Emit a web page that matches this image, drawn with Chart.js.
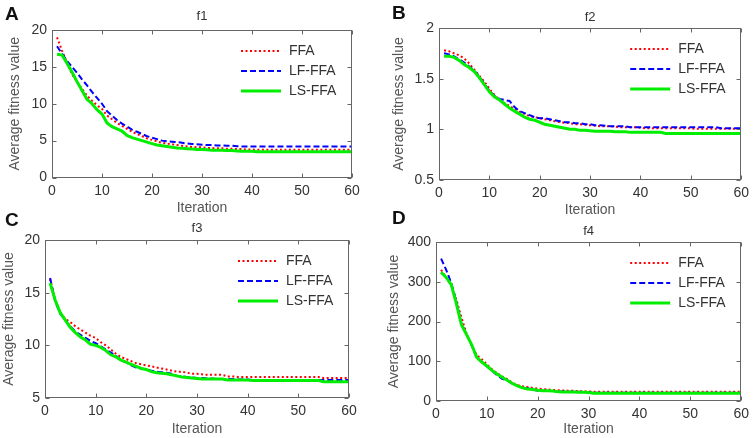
<!DOCTYPE html>
<html>
<head>
<meta charset="utf-8">
<title>Average fitness value vs iteration</title>
<script src="https://cdn.jsdelivr.net/npm/chart.js@4.4.1/dist/chart.umd.min.js"></script>
<style>
  body { margin: 0; background: #fff; }
  #wrap { position: relative; width: 754px; height: 438px; overflow: hidden; background: #fff; }
  #wrap canvas { position: absolute; }
  .tag { position: absolute; font: bold 19px 'Liberation Sans', Arial, sans-serif; line-height: 1; color: #111; }
</style>
</head>
<body>
<div id="wrap">
  <canvas id="chartA" width="377" height="219" style="left:0;top:0"></canvas>
  <canvas id="chartB" width="377" height="219" style="left:377px;top:0"></canvas>
  <canvas id="chartC" width="377" height="219" style="left:0;top:219px"></canvas>
  <canvas id="chartD" width="377" height="219" style="left:377px;top:219px"></canvas>
  <div class="tag" style="left:5px;top:3.5px">A</div>
  <div class="tag" style="left:392px;top:2.5px">B</div>
  <div class="tag" style="left:5px;top:209.5px">C</div>
  <div class="tag" style="left:392px;top:208px">D</div>
</div>
<script>
// Iterations (x axis)
const iterations = [1, 2, 3, 4, 5, 6, 7, 8, 9, 10, 11, 12, 13, 14, 15, 16, 17, 18, 19, 20,
    21, 22, 23, 24, 25, 26, 27, 28, 29, 30, 31, 32, 33, 34, 35, 36, 37, 38, 39, 40,
    41, 42, 43, 44, 45, 46, 47, 48, 49, 50, 51, 52, 53, 54, 55, 56, 57, 58, 59, 60];

const seriesNames = ['FFA', 'LF-FFA', 'LS-FFA'];

// f1
const f1FFA = [19.0, 17.2, 15.6, 14.0, 13.0, 12.0, 11.1, 10.4, 9.8, 9.3, 8.4, 7.9, 7.4, 7.0, 6.6, 6.2, 5.9, 5.6, 5.3, 5.1,
    4.9, 4.7, 4.6, 4.5, 4.4, 4.3, 4.2, 4.15, 4.1, 4.1, 4.0, 4.0, 3.95, 3.95, 3.9, 3.9, 3.85, 3.85, 3.8, 3.8,
    3.75, 3.75, 3.75, 3.75, 3.75, 3.75, 3.75, 3.75, 3.75, 3.75, 3.75, 3.75, 3.75, 3.75, 3.75, 3.75, 3.75, 3.75, 3.75, 3.75];
const f1LF = [17.8, 16.8, 15.8, 15.0, 14.2, 13.3, 12.5, 11.6, 10.8, 10.0, 9.0, 8.4, 7.8, 7.3, 6.9, 6.5, 6.2, 5.9, 5.6, 5.4,
    5.2, 5.0, 4.9, 4.85, 4.8, 4.7, 4.6, 4.55, 4.5, 4.45, 4.4, 4.4, 4.35, 4.35, 4.3, 4.3, 4.25, 4.2, 4.2, 4.2,
    4.2, 4.2, 4.2, 4.2, 4.2, 4.2, 4.2, 4.2, 4.2, 4.2, 4.2, 4.2, 4.2, 4.2, 4.2, 4.2, 4.2, 4.2, 4.2, 4.2];
const f1LS = [16.7, 16.6, 15.5, 14.3, 13.0, 11.8, 10.6, 10.0, 9.2, 8.6, 7.4, 6.9, 6.6, 6.3, 5.7, 5.4, 5.2, 5.0, 4.8, 4.6,
    4.4, 4.3, 4.2, 4.1, 4.0, 3.95, 3.9, 3.85, 3.8, 3.8, 3.75, 3.7, 3.7, 3.7, 3.65, 3.65, 3.6, 3.55, 3.55, 3.55,
    3.5, 3.5, 3.5, 3.5, 3.5, 3.5, 3.5, 3.5, 3.5, 3.5, 3.5, 3.5, 3.5, 3.5, 3.5, 3.5, 3.5, 3.5, 3.5, 3.5];

// f2
const f2FFA = [1.78, 1.77, 1.75, 1.73, 1.70, 1.65, 1.59, 1.53, 1.47, 1.40, 1.34, 1.29, 1.26, 1.23, 1.20, 1.17, 1.15, 1.13, 1.12, 1.11,
    1.10, 1.09, 1.08, 1.07, 1.065, 1.06, 1.05, 1.05, 1.045, 1.04, 1.035, 1.03, 1.03, 1.03, 1.025, 1.02, 1.02, 1.02, 1.02, 1.015,
    1.01, 1.01, 1.01, 1.01, 1.01, 1.01, 1.01, 1.01, 1.01, 1.01, 1.005, 1.005, 1.005, 1.005, 1.005, 1.005, 1.005, 1.005, 1.005, 1.005];
const f2LF = [1.75, 1.74, 1.72, 1.69, 1.66, 1.62, 1.58, 1.52, 1.45, 1.38, 1.33, 1.30, 1.29, 1.28, 1.22, 1.18, 1.16, 1.14, 1.12, 1.11,
    1.11, 1.10, 1.09, 1.08, 1.07, 1.07, 1.06, 1.06, 1.05, 1.05, 1.04, 1.04, 1.035, 1.03, 1.03, 1.03, 1.03, 1.02, 1.02, 1.02,
    1.02, 1.02, 1.02, 1.02, 1.02, 1.02, 1.02, 1.02, 1.02, 1.02, 1.02, 1.02, 1.02, 1.02, 1.02, 1.01, 1.01, 1.01, 1.01, 1.01];
const f2LS = [1.72, 1.72, 1.71, 1.68, 1.64, 1.61, 1.57, 1.51, 1.44, 1.37, 1.32, 1.29, 1.25, 1.21, 1.18, 1.15, 1.12, 1.10, 1.09, 1.07,
    1.05, 1.04, 1.03, 1.02, 1.01, 1.0, 1.0, 0.99, 0.99, 0.985, 0.98, 0.98, 0.98, 0.98, 0.975, 0.975, 0.975, 0.97, 0.97, 0.97,
    0.97, 0.97, 0.97, 0.97, 0.96, 0.96, 0.96, 0.96, 0.96, 0.96, 0.96, 0.96, 0.96, 0.96, 0.96, 0.96, 0.96, 0.96, 0.96, 0.96];

// f3
const f3FFA = [16.3, 14.3, 13.1, 12.5, 12.2, 11.8, 11.5, 11.2, 10.9, 10.7, 10.3, 10.0, 9.6, 9.2, 8.9, 8.7, 8.5, 8.3, 8.2, 8.1,
    8.0, 7.9, 7.8, 7.7, 7.6, 7.5, 7.5, 7.4, 7.3, 7.3, 7.25, 7.2, 7.2, 7.2, 7.2, 7.05, 7.05, 7.0, 7.0, 7.0,
    7.0, 7.0, 7.0, 7.0, 7.0, 7.0, 7.0, 7.0, 7.0, 7.0, 7.0, 7.0, 7.0, 7.0, 6.9, 6.9, 6.9, 6.9, 6.9, 6.9];
const f3LF = [16.4, 14.2, 13.0, 12.4, 11.8, 11.3, 11.0, 10.7, 10.4, 10.2, 9.9, 9.6, 9.3, 9.0, 8.6, 8.4, 8.1, 7.9, 7.8, 7.7,
    7.6, 7.5, 7.45, 7.4, 7.3, 7.1, 7.05, 7.0, 6.95, 6.9, 6.9, 6.85, 6.85, 6.8, 6.8, 6.8, 6.8, 6.75, 6.75, 6.75,
    6.7, 6.7, 6.7, 6.7, 6.7, 6.7, 6.7, 6.7, 6.7, 6.7, 6.7, 6.7, 6.7, 6.7, 6.7, 6.7, 6.7, 6.7, 6.7, 6.7];
const f3LS = [15.9, 14.3, 13.1, 12.4, 11.7, 11.2, 10.8, 10.5, 10.1, 10.0, 9.8, 9.5, 9.1, 8.9, 8.6, 8.4, 8.2, 8.0, 7.8, 7.7,
    7.5, 7.4, 7.35, 7.3, 7.2, 7.1, 7.0, 6.95, 6.9, 6.85, 6.8, 6.8, 6.8, 6.8, 6.8, 6.7, 6.7, 6.7, 6.7, 6.7,
    6.65, 6.65, 6.65, 6.65, 6.65, 6.65, 6.65, 6.65, 6.65, 6.65, 6.65, 6.65, 6.65, 6.65, 6.55, 6.55, 6.55, 6.55, 6.55, 6.55];

// f4
const f4FFA = [330, 310, 290, 255, 210, 170, 140, 115, 105, 92, 80, 70, 62, 55, 46, 40, 37, 35, 33, 31,
    30, 29, 28, 27, 26.5, 26, 25.5, 25, 24.5, 24, 23.5, 23.5, 23.5, 23.5, 23.5, 23.5, 23.5, 23.5, 23.5, 23.5,
    23.5, 23.5, 23.5, 23.5, 23.5, 23.5, 23.5, 23.5, 23.5, 23.5, 23.5, 23.5, 23.5, 23.5, 23.5, 23.5, 23.5, 23.5, 23.5, 23.5];
const f4LF = [358, 330, 297, 250, 195, 168, 140, 110, 98, 88, 76, 65, 56, 52, 44, 38, 34, 32, 29, 26,
    26, 25.5, 25, 24, 24, 23.5, 23, 23, 22.5, 22, 21, 21, 21, 21, 21, 21, 21, 21, 21, 21,
    21, 21, 21, 21, 21, 21, 21, 21, 21, 21, 21, 21, 21, 21, 21, 21, 21, 21, 21, 21];
const f4LS = [324, 311, 293, 245, 192, 167, 142, 110, 98, 88, 77, 68, 60, 52, 44, 38, 33, 30, 29, 27,
    26, 25.5, 25, 23, 22.5, 22.5, 22.5, 22, 22, 21.5, 19.5, 19.5, 19.5, 19.5, 19.5, 19.5, 19.5, 19.5, 19.5, 19.5,
    19.5, 19.5, 19.5, 19.5, 19.5, 19.5, 19.5, 19.5, 19.5, 19.5, 19.5, 19.5, 19.5, 19.5, 19.5, 19.5, 19.5, 19.5, 19.5, 19.5];

// Axis ranges: min, max, step
const f1Range = [0, 20, 5];
const f2Range = [0.5, 2, 0.5];
const f3Range = [5, 20, 5];
const f4Range = [0, 400, 100];

Chart.defaults.font.family = "'Liberation Sans', Arial, sans-serif";
Chart.defaults.font.size = 14;
Chart.defaults.color = '#333';

const lineStyles = [
    { borderColor: '#ff0000', borderWidth: 2, borderDash: [2, 2.5], order: 3 },
    { borderColor: '#0000ff', borderWidth: 2, borderDash: [6, 3], order: 2 },
    { borderColor: '#00ee00', borderWidth: 3, borderDash: [], order: 1 }
];

// Box, inward ticks, title and legend in MATLAB style
const matlabFrame = {
    id: 'matlabFrame',
    afterDraw(chart, args, opts) {
        const { ctx, chartArea: a, scales: { x, y } } = chart;
        const l = Math.round(a.left) + 0.5, r = Math.round(a.right) - 0.5;
        const t = Math.round(a.top) + 0.5, b = Math.round(a.bottom) - 0.5;
        ctx.save();
        ctx.strokeStyle = '#666';
        ctx.lineWidth = 1;
        ctx.setLineDash([]);
        ctx.strokeRect(l, t, r - l, b - t);
        ctx.beginPath();
        x.ticks.forEach(tk => {
            const px = Math.round(x.getPixelForValue(tk.value)) + 0.5;
            ctx.moveTo(px, b); ctx.lineTo(px, b - 4);
            ctx.moveTo(px, t); ctx.lineTo(px, t + 4);
        });
        y.ticks.forEach(tk => {
            const py = Math.round(y.getPixelForValue(tk.value)) + 0.5;
            ctx.moveTo(l, py); ctx.lineTo(l + 4, py);
            ctx.moveTo(r, py); ctx.lineTo(r - 4, py);
        });
        ctx.stroke();

        // title
        ctx.fillStyle = '#333';
        ctx.font = "13px 'Liberation Sans', Arial, sans-serif";
        ctx.textAlign = 'center';
        ctx.textBaseline = 'middle';
        ctx.fillText(opts.title, (a.left + a.right) / 2, a.top - opts.titleGap);

        // legend
        ctx.font = "14px 'Liberation Sans', Arial, sans-serif";
        ctx.textAlign = 'left';
        chart.data.datasets.forEach((ds, i) => {
            const ly = a.top + 21 + i * 20;
            ctx.strokeStyle = ds.borderColor;
            ctx.lineWidth = ds.borderWidth;
            ctx.setLineDash(ds.borderDash);
            ctx.beginPath();
            ctx.moveTo(a.right - 111, ly);
            ctx.lineTo(a.right - 71, ly);
            ctx.stroke();
            ctx.fillStyle = '#333';
            ctx.fillText(ds.label, a.right - 63, ly);
        });
        ctx.restore();
    }
};

const panels = [
    { id: 'chartA', title: 'f1', titleGap: 14, series: [f1FFA, f1LF, f1LS], range: f1Range,
      pad: { left: 7, top: 30, right: 25, bottom: 2.3 }, yWidth: 45, xHeight: 39.2 },
    { id: 'chartB', title: 'f2', titleGap: 10.5, series: [f2FFA, f2LF, f2LS], range: f2Range,
      pad: { left: 14, top: 28, right: 9, bottom: 0 }, yWidth: 48, xHeight: 39 },
    { id: 'chartC', title: 'f3', titleGap: 12, series: [f3FFA, f3LF, f3LS], range: f3Range,
      pad: { left: 1, top: 21, right: 28, bottom: 0 }, yWidth: 44, xHeight: 40 },
    { id: 'chartD', title: 'f4', titleGap: 10.5, series: [f4FFA, f4LF, f4LS], range: f4Range,
      pad: { left: 8.6, top: 23, right: 9, bottom: 0 }, yWidth: 50.4, xHeight: 37 }
];

function makeChart(p) {
    const ctx = document.getElementById(p.id).getContext('2d');
    return new Chart(ctx, {
        type: 'line',
        data: {
            labels: iterations,
            datasets: p.series.map((values, i) => ({
                label: seriesNames[i],
                data: values,
                ...lineStyles[i],
                pointRadius: 0,
                tension: 0,
                fill: false
            }))
        },
        options: {
            responsive: false,
            animation: false,
            layout: { padding: p.pad },
            plugins: {
                legend: { display: false },
                tooltip: { enabled: false },
                matlabFrame: { title: p.title, titleGap: p.titleGap }
            },
            scales: {
                x: {
                    type: 'linear',
                    min: 0,
                    max: 60,
                    afterFit: s => { s.height = p.xHeight; },
                    grid: { display: false, drawTicks: false },
                    border: { display: false },
                    ticks: { stepSize: 10, padding: 5, maxRotation: 0, autoSkip: false, color: '#333' },
                    title: { display: true, text: 'Iteration', color: '#555', padding: 0 }
                },
                y: {
                    min: p.range[0],
                    max: p.range[1],
                    afterFit: s => { s.width = p.yWidth; },
                    grid: { display: false, drawTicks: false },
                    border: { display: false },
                    ticks: { stepSize: p.range[2], padding: 5, color: '#333', callback: v => String(v) },
                    title: { display: true, text: 'Average fitness value', color: '#555', padding: 0 }
                }
            }
        },
        plugins: [matlabFrame]
    });
}

panels.forEach(makeChart);
</script>
</body>
</html>
